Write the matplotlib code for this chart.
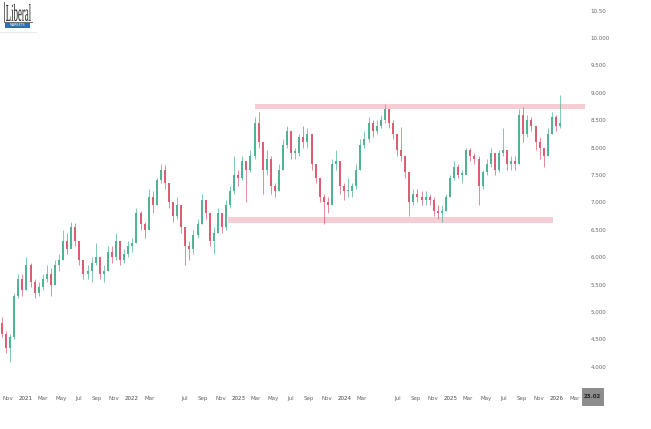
import matplotlib
matplotlib.use("Agg")
import matplotlib.pyplot as plt
import matplotlib.dates as mdates
import pandas as pd
from matplotlib.patches import Rectangle, PathPatch
from matplotlib.textpath import TextPath
from matplotlib.font_manager import FontProperties
from matplotlib.transforms import Affine2D, IdentityTransform

# two-week candles
first_open = 4.8
closes = [4.6, 4.35, 4.55, 5.3, 5.6, 5.4, 5.85, 5.55, 5.35, 5.45,
          5.6, 5.7, 5.5, 5.85, 5.95, 6.3, 6.15, 6.55, 6.3, 5.95,
          5.7, 5.75, 5.9, 6.0, 5.7, 5.75, 6.1, 6.0, 6.3, 5.95,
          6.05, 6.2, 6.25, 6.8, 6.6, 6.5, 7.1, 6.95, 7.4, 7.6,
          7.35, 7.0, 6.75, 6.95, 6.55, 6.2, 6.15, 6.4, 6.6, 7.05,
          6.8, 6.3, 6.45, 6.8, 6.55, 6.95, 7.2, 7.5, 7.45, 7.75,
          7.6, 7.85, 8.45, 8.1, 7.6, 7.8, 7.3, 7.2, 7.6, 8.05,
          8.3, 7.9, 7.9, 8.2, 8.1, 8.25, 7.7, 7.45, 7.1, 7.0,
          6.95, 7.7, 7.75, 7.3, 7.2, 7.2, 7.3, 7.6, 8.05, 8.15,
          8.45, 8.3, 8.4, 8.5, 8.7, 8.45, 8.25, 7.95, 7.85, 7.55,
          7.0, 7.15, 7.1, 7.05, 7.1, 7.05, 6.85, 6.8, 6.85, 7.1,
          7.45, 7.65, 7.5, 7.5, 7.95, 7.85, 7.8, 7.3, 7.55, 7.7,
          7.9, 7.6, 7.9, 7.95, 7.7, 7.75, 7.7, 8.6, 8.25, 8.5,
          8.4, 8.1, 8.0, 7.85, 8.25, 8.55, 8.4, 8.45]
highs = [4.9, 4.65, 4.6, 5.35, 5.7, 5.7, 6.0, 5.9, 5.6, 5.55,
         5.7, 5.85, 5.8, 5.95, 6.05, 6.5, 6.45, 6.65, 6.62, 6.3,
         5.95, 5.85, 6.0, 6.25, 5.95, 5.85, 6.2, 6.2, 6.45, 6.3,
         6.15, 6.3, 6.35, 6.9, 6.85, 6.65, 7.25, 7.2, 7.45, 7.7,
         7.68, 7.35, 7.0, 7.1, 6.95, 6.55, 6.3, 6.5, 6.7, 7.15,
         7.05, 6.8, 6.55, 6.9, 6.8, 7.05, 7.3, 7.85, 7.6, 7.85,
         7.75, 7.95, 8.55, 8.65, 8.1, 7.95, 7.85, 7.35, 7.7, 8.15,
         8.4, 8.3, 8.0, 8.25, 8.4, 8.35, 8.25, 7.65, 7.45, 7.15,
         7.1, 7.8, 7.95, 7.75, 7.35, 7.45, 7.35, 7.7, 8.15, 8.3,
         8.55, 8.5, 8.5, 8.6, 8.8, 8.7, 8.5, 8.25, 8.38, 7.85,
         7.55, 7.25, 7.25, 7.2, 7.2, 7.15, 7.1, 6.95, 6.95, 7.15,
         7.5, 7.75, 7.7, 7.6, 8.0, 8.0, 7.9, 7.85, 7.6, 7.8,
         8.0, 7.85, 7.95, 8.35, 7.95, 7.85, 7.85, 8.7, 8.75, 8.6,
         8.55, 8.4, 8.2, 8.0, 8.35, 8.65, 8.6, 8.96]
lows = [4.55, 4.25, 4.08, 4.5, 5.25, 5.3, 5.4, 5.45, 5.25, 5.3,
        5.4, 5.55, 5.3, 5.5, 5.75, 5.95, 6.05, 6.3, 6.2, 5.85,
        5.6, 5.6, 5.55, 5.85, 5.6, 5.55, 5.75, 5.9, 5.95, 5.85,
        5.9, 6.0, 6.1, 6.25, 6.5, 6.35, 6.5, 6.8, 6.95, 7.35,
        7.25, 6.9, 6.65, 6.7, 6.45, 5.85, 5.95, 6.05, 6.35, 6.6,
        6.7, 6.2, 6.05, 6.45, 6.45, 6.5, 6.9, 7.15, 7.3, 7.4,
        7.0, 7.55, 7.8, 8.0, 7.15, 7.5, 7.15, 7.1, 7.2, 7.6,
        8.0, 7.8, 7.8, 7.85, 8.0, 8.0, 7.6, 7.35, 7.0, 6.6,
        6.8, 6.95, 7.6, 7.15, 7.05, 7.1, 7.1, 7.25, 7.6, 8.0,
        8.1, 8.2, 8.25, 8.35, 8.45, 8.35, 8.15, 7.85, 7.75, 7.45,
        6.75, 6.95, 7.0, 6.95, 6.95, 6.95, 6.75, 6.7, 6.65, 6.85,
        7.1, 7.4, 7.45, 7.35, 7.55, 7.75, 7.7, 6.95, 7.25, 7.5,
        7.65, 7.5, 7.55, 7.85, 7.6, 7.6, 7.6, 7.7, 8.1, 8.2,
        8.3, 7.95, 7.8, 7.65, 7.85, 8.25, 8.3, 8.35]
start_date = "2020-10-11"

# resistance / support zones (price band, start, end)
top_zone = (8.70, 8.80, "2023-02-27", "2026-04-07")
bottom_zone = (6.63, 6.74, "2022-11-26", "2025-12-18")

price_ticks = [4.0, 4.5, 5.0, 5.5, 6.0, 6.5, 7.0, 7.5, 8.0, 8.5, 9.0, 9.5, 10.0, 10.5]
price_labels = ["4.000", "4.500", "5.000", "5.500", "6.000", "6.500", "7.000",
                "7.500", "8.000", "8.500", "9.000", "9.500", "10.000", "10.50"]
date_ticks = ["2020-11-01", "2021-01-01", "2021-03-01", "2021-05-01", "2021-07-01",
              "2021-09-01", "2021-11-01", "2022-01-01", "2022-03-01", "2022-07-01",
              "2022-09-01", "2022-11-01", "2023-01-01", "2023-03-01", "2023-05-01",
              "2023-07-01", "2023-09-01", "2023-11-01", "2024-01-01", "2024-03-01",
              "2024-07-01", "2024-09-01", "2024-11-01", "2025-01-01", "2025-03-01",
              "2025-05-01", "2025-07-01", "2025-09-01", "2025-11-01", "2026-01-01",
              "2026-03-01"]
date_labels = ["Nov", "2021", "Mar", "May", "Jul", "Sep", "Nov", "2022", "Mar", "Jul",
               "Sep", "Nov", "2023", "Mar", "May", "Jul", "Sep", "Nov", "2024", "Mar",
               "Jul", "Sep", "Nov", "2025", "Mar", "May", "Jul", "Sep", "Nov", "2026",
               "Mar"]

plt.rcParams["font.family"] = ["Liberation Sans Narrow", "DejaVu Sans"]

fig = plt.figure(figsize=(6.51, 4.29), dpi=100)
fig.patch.set_facecolor("white")
ax = fig.add_axes([0, 44 / 429, 585 / 651, 385 / 429])

dates = pd.date_range(start_date, periods=len(closes), freq="14D")
opens = [first_open] + closes[:-1]
up_color = "#4db393"
down_color = "#dc5b71"
colors = [up_color if c >= o else down_color for o, c in zip(opens, closes)]
body_lo = [min(o, c) for o, c in zip(opens, closes)]
body_hi = [max(max(o, c), min(o, c) + 0.03) for o, c in zip(opens, closes)]

ax.vlines(dates, lows, highs, colors=colors, linewidth=0.5, zorder=3)
ax.vlines(dates, body_lo, body_hi, colors=colors, linewidth=1.4, zorder=4,
          capstyle="butt")

# zones
for lo, hi, d0, d1 in [top_zone, bottom_zone]:
    x0 = mdates.date2num(pd.Timestamp(d0))
    x1 = mdates.date2num(pd.Timestamp(d1))
    ax.add_patch(Rectangle((x0, lo), x1 - x0, hi - lo, facecolor="#f4b3bf",
                           alpha=0.65, linewidth=0, zorder=2, clip_on=False))

ax.set_xlim(pd.Timestamp("2020-10-04"), pd.Timestamp("2026-04-07"))
ax.set_ylim(3.666, 10.695)

ax.yaxis.tick_right()
ax.set_yticks(price_ticks)
ax.set_yticklabels(price_labels)
ax.tick_params(axis="y", length=0, pad=4, labelsize=4, colors="#666666")

ax.set_xticks([pd.Timestamp(d) for d in date_ticks])
ax.set_xticklabels(date_labels)
ax.tick_params(axis="x", length=0, pad=8, labelsize=4, colors="#666666")
for lab in ax.get_xticklabels():
    if lab.get_text().isdigit():
        lab.set_color("#444444")

for s in ax.spines.values():
    s.set_visible(False)
ax.set_facecolor("white")

# logo: condensed serif word in a thin frame, blue strip below
H = 429
tp = TextPath((0, 0), "Liberal", size=10,
              prop=FontProperties(family=["Liberation Serif", "DejaVu Serif"]))
bb = tp.get_extents()
sx = 25 / bb.width
sy = 17 / bb.height
logo_tr = Affine2D().translate(-bb.x0, -bb.y0).scale(sx, sy).translate(6, H - 21)
fig.patches.append(PathPatch(tp, transform=logo_tr + IdentityTransform(),
                             facecolor="#1e1e1e", linewidth=0))
fig.lines.append(plt.Line2D([4 / 651, 4 / 651, 32 / 651], [1 - 2 / 429, 1 - 22 / 429, 1 - 22 / 429],
                            transform=fig.transFigure, color="#555555", linewidth=0.6))
fig.patches.append(Rectangle((5 / 651, 1 - 28 / 429), 25 / 651, 5 / 429,
                             transform=fig.transFigure, facecolor="#2f6db5",
                             linewidth=0))
fig.text(17.5 / 651, 1 - 25.5 / 429, "MARKETS", fontsize=2.3, color="white",
         ha="center", va="center")
fig.lines.append(plt.Line2D([0, 36 / 651], [1 - 32 / 429, 1 - 32 / 429],
                            transform=fig.transFigure, color="#e6e6e6", linewidth=0.6))

# date marker on the time axis
fig.patches.append(Rectangle((582 / 651, 1 - 405 / 429), 21 / 651, 17 / 429,
                             transform=fig.transFigure, facecolor="#8c8c8c",
                             edgecolor="#777777", linewidth=0.5))
fig.text(592.5 / 651, 1 - 397 / 429, "23.02", fontsize=4, color="#222222",
         ha="center", va="center", weight="bold")

fig.savefig("out.png", dpi=100)
